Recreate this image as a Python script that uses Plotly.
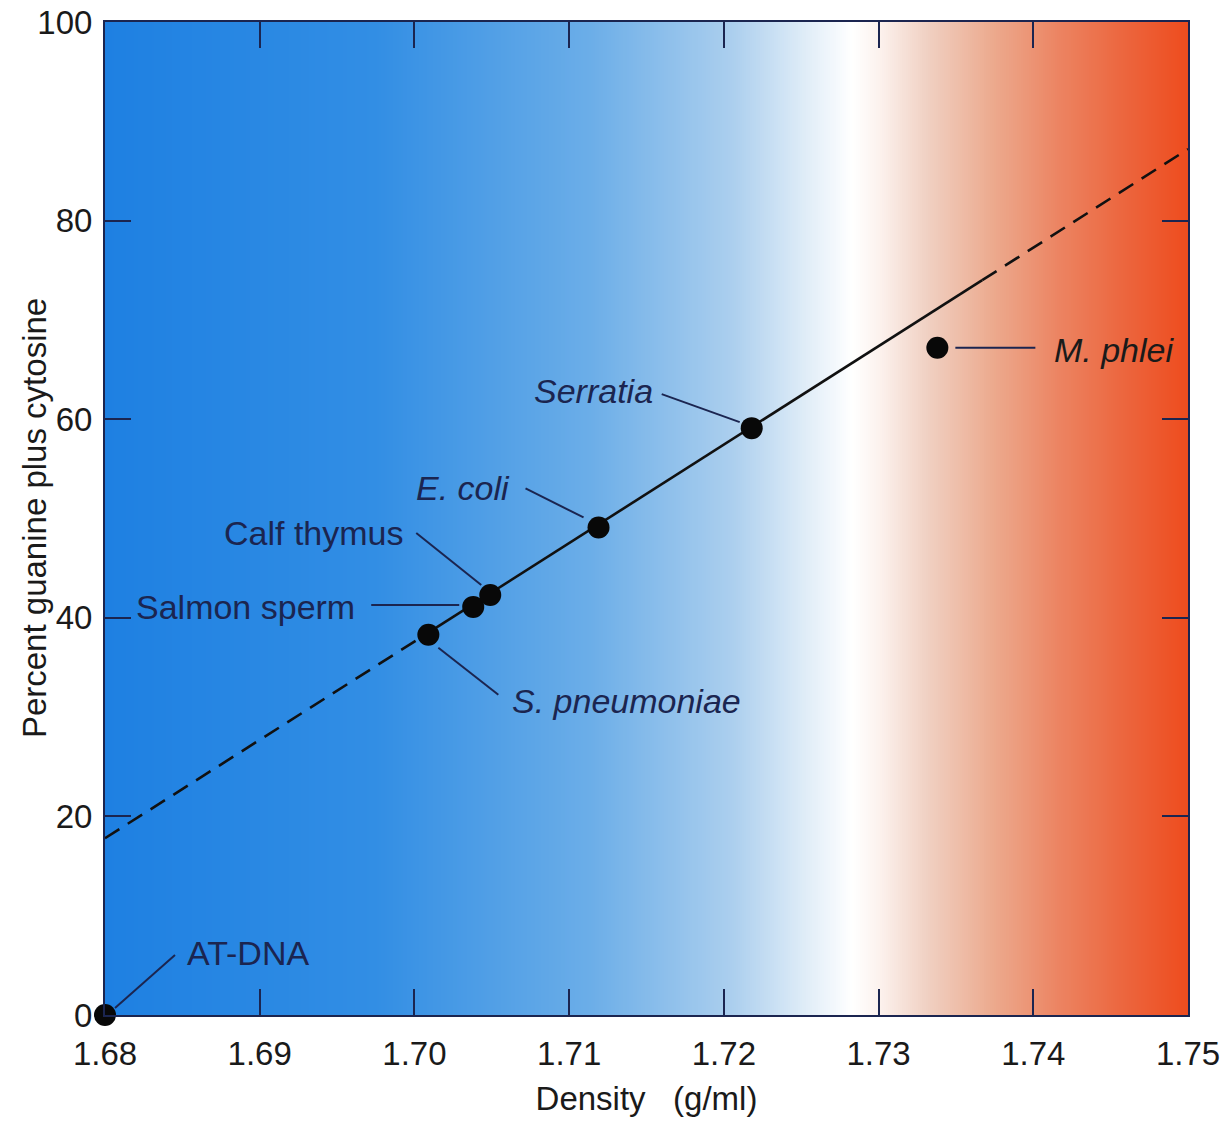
import numpy as np
import plotly.graph_objects as go

# ---------------- data ----------------
samples = ["AT-DNA", "S. pneumoniae", "Salmon sperm", "Calf thymus", "E. coli", "Serratia", "M. phlei"]
italic = [False, True, False, False, True, True, True]
density = [1.6800, 1.7009, 1.7038, 1.7049, 1.7119, 1.7218, 1.7338]
gc_percent = [0.0, 38.3, 41.1, 42.3, 49.1, 59.1, 67.2]

# fitted line: dashed low part, solid middle, dashed high part
fit_density = [1.6800, 1.7009, 1.7367, 1.7500]
fit_gc = [17.8, 38.5, 74.0, 87.2]

x_tick_vals = [1.68, 1.69, 1.70, 1.71, 1.72, 1.73, 1.74, 1.75]
x_tick_text = ["1.68", "1.69", "1.70", "1.71", "1.72", "1.73", "1.74", "1.75"]
y_tick_vals = [0, 20, 40, 60, 80, 100]
y_tick_text = ["0", "20", "40", "60", "80", "100"]

x_title = "Density\u00a0\u00a0\u00a0(g/ml)"
y_title = "Percent guanine plus cytosine"

# background gradient colour stops (fraction of density range, colour)
gradient_stops = [
    (0.00, "rgb(30,128,226)"),
    (0.25, "rgb(50,142,228)"),
    (0.45, "rgb(108,174,232)"),
    (0.58, "rgb(172,207,238)"),
    (0.65, "rgb(226,238,248)"),
    (0.69, "rgb(255,255,255)"),
    (0.715, "rgb(252,242,238)"),
    (0.76, "rgb(240,208,194)"),
    (0.82, "rgb(236,170,142)"),
    (0.88, "rgb(236,132,98)"),
    (0.94, "rgb(236,102,62)"),
    (1.00, "rgb(238,76,30)"),
]

# ---------------- styles ----------------
NAVY = "#1b2550"
FONT = "Liberation Sans, Arial, Helvetica, sans-serif"
# leader line (dx0, dy0, dx1, dy1) and label (dx, dy, anchor) offsets in pixels
leader_offsets = {
    "AT-DNA": (10, 7, 70, 60),
    "S. pneumoniae": (10, -13, 70, -60),
    "Salmon sperm": (-14, 2, -102, 2),
    "Calf thymus": (-9, 10, -74, 62),
    "E. coli": (-15, 10, -73, 39),
    "Serratia": (-12, 6, -90, 34),
    "M. phlei": (18, 0, 98, 0),
}
label_offsets = {
    "AT-DNA": (80, 62, "left"),
    "S. pneumoniae": (82, -66, "left"),
    "Salmon sperm": (-116, 0, "right"),
    "Calf thymus": (-84, 62, "right"),
    "E. coli": (-87, 39, "right"),
    "Serratia": (-97, 37, "right"),
    "M. phlei": (115, -2, "left"),
}
label_colors = {s: NAVY for s in samples}
label_colors["M. phlei"] = "#1a1a1a"

fig = go.Figure()

# gradient background
gx = np.linspace(x_tick_vals[0], x_tick_vals[-1], 541)
fig.add_trace(go.Heatmap(
    x=gx, y=[y_tick_vals[0], y_tick_vals[-1]], z=[gx, gx],
    colorscale=[[p, c] for p, c in gradient_stops],
    zmin=x_tick_vals[0], zmax=x_tick_vals[-1],
    showscale=False, hoverinfo="skip",
))

# fit line
dash_style = dict(color="#111111", width=2.6, dash="17px,10px")
fig.add_trace(go.Scatter(x=fit_density[0:2], y=fit_gc[0:2], mode="lines",
                         line=dash_style, hoverinfo="skip", showlegend=False))
fig.add_trace(go.Scatter(x=fit_density[1:3], y=fit_gc[1:3], mode="lines",
                         line=dict(color="#111111", width=2.6),
                         hoverinfo="skip", showlegend=False))
fig.add_trace(go.Scatter(x=fit_density[2:4], y=fit_gc[2:4], mode="lines",
                         line=dash_style, hoverinfo="skip", showlegend=False))

# data points
fig.add_trace(go.Scatter(x=density, y=gc_percent, mode="markers", text=samples,
                         marker=dict(color="#080808", size=22),
                         cliponaxis=False, showlegend=False))

# leader lines + labels
for s, d, g, it in zip(samples, density, gc_percent, italic):
    dx0, dy0, dx1, dy1 = leader_offsets[s]
    fig.add_shape(type="line", xref="x", yref="y",
                  xsizemode="pixel", ysizemode="pixel",
                  xanchor=d, yanchor=g, x0=dx0, y0=dy0, x1=dx1, y1=dy1,
                  line=dict(color=NAVY, width=2), layer="above")
    tx, ty, anc = label_offsets[s]
    fig.add_annotation(x=d, y=g, xref="x", yref="y",
                       text=f"<i>{s}</i>" if it else s,
                       showarrow=False, xanchor=anc, yanchor="middle",
                       xshift=tx, yshift=ty,
                       font=dict(family=FONT, size=34, color=label_colors[s]))

# y axis title (placed as annotation for exact position)
fig.add_annotation(x=-0.065, y=0.5, xref="paper", yref="paper",
                   text=y_title, textangle=-90, showarrow=False,
                   xanchor="center", yanchor="middle",
                   font=dict(family=FONT, size=33, color="#1a1a1a"))

axis_common = dict(
    ticks="inside", ticklen=26, tickwidth=2, tickcolor=NAVY,
    showline=True, linecolor=NAVY, linewidth=2, mirror="ticks",
    showgrid=False, zeroline=False,
    tickfont=dict(family=FONT, size=33, color="#1a1a1a"),
)

fig.update_layout(
    width=1223, height=1122,
    margin=dict(l=105, r=35, t=22, b=107),
    paper_bgcolor="white", plot_bgcolor="white",
    showlegend=False,
    xaxis=dict(range=[x_tick_vals[0], x_tick_vals[-1]],
               tickvals=x_tick_vals, ticktext=x_tick_text,
               ticklabelstandoff=8,
               title=dict(text=x_title, standoff=16,
                          font=dict(family=FONT, size=33, color="#1a1a1a")),
               automargin=False, **axis_common),
    yaxis=dict(range=[y_tick_vals[0], y_tick_vals[-1]],
               tickvals=y_tick_vals, ticktext=y_tick_text,
               ticklabelstandoff=4,
               automargin=False, **axis_common),
)

fig.write_html("out.html")
